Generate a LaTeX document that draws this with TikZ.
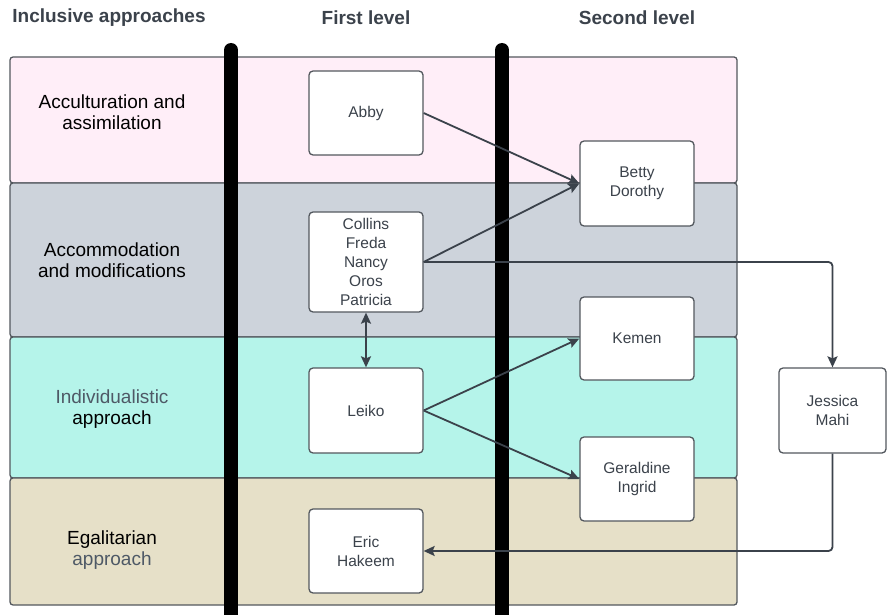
\documentclass[tikz,border=0pt]{standalone}
\usepackage{fontspec}
\setmainfont{Liberation Sans}
\usetikzlibrary{arrows.meta}
\definecolor{inkgray}{HTML}{3B424B}
\definecolor{edgegray}{HTML}{53585E}
\definecolor{softgray}{HTML}{4E5966}
\definecolor{lanepink}{HTML}{FFEEF8}
\definecolor{lanegray}{HTML}{CDD3DB}
\definecolor{lanemint}{HTML}{B5F4EA}
\definecolor{lanesand}{HTML}{E6E0C8}
\tikzset{
  lane/.style={draw=edgegray, line width=1.3pt, rounded corners=3pt},
  heading/.style={font=\fontsize{19}{22}\selectfont\bfseries, text=inkgray, inner sep=0pt},
  lanelabel/.style={font=\fontsize{19}{21.5}\selectfont, align=center, text=black, inner sep=0pt},
  person/.style={draw=edgegray, fill=white, line width=1.3pt, rounded corners=4pt,
    minimum width=114pt, align=center, text=inkgray, inner sep=0pt,
    font=\fontsize{15.5}{19}\selectfont},
  divider/.style={line width=14pt, line cap=round, black},
  link/.style={draw=inkgray, line width=1.8pt, rounded corners=4pt,
    -{Stealth[length=11pt, width=10pt, inset=2pt]}},
}
\begin{document}
\begin{tikzpicture}[x=1pt, y=-1pt]
  \useasboundingbox (0,0) rectangle (887,615);

  % swimlanes
  \draw[lane, fill=lanepink] (10,57) rectangle (737,183);
  \draw[lane, fill=lanegray] (10,183) rectangle (737,337);
  \draw[lane, fill=lanemint] (10,337) rectangle (737,478);
  \draw[lane, fill=lanesand] (10,478) rectangle (737,605);

  % column dividers
  \draw[divider] (231,50) -- (231,640);
  \draw[divider] (502,50) -- (502,640);

  % column headings
  \node[heading] (hA) at (109,18) {Inclusive approaches};
  \node[heading] (hB) at (366,18) {First level};
  \node[heading] (hC) at (637,18) {Second level};

  % lane labels
  \node[lanelabel] (lA) at (112,112) {Acculturation and\\assimilation};
  \node[lanelabel] (lB) at (112,260) {Accommodation\\and modifications};
  \node[lanelabel] (lC) at (112,409) {\textcolor{softgray}{Individualistic}\\approach};
  \node[lanelabel] (lD) at (112,550) {Egalitarian\\\textcolor{softgray}{approach}};

  % people
  \node[person, minimum height=84pt] (abby) at (366,113) {Abby};
  \node[person, minimum height=100pt] (collins) at (366,262) {Collins\\Freda\\Nancy\\Oros\\Patricia};
  \node[person, minimum height=85pt] (leiko) at (366,410.5) {Leiko};
  \node[person, minimum height=84pt] (eric) at (366,551) {Eric\\Hakeem};
  \node[person, minimum height=85pt] (betty) at (637,183.5) {Betty\\Dorothy};
  \node[person, minimum height=83pt] (kemen) at (637,338.5) {Kemen};
  \node[person, minimum height=84pt] (geraldine) at (637,479) {Geraldine\\Ingrid};
  \node[person, minimum height=85pt, minimum width=107pt] (jessica) at (832.5,410.5) {Jessica\\Mahi};

  % connectors
  \draw[link] (abby.east) -- (betty.west);
  \draw[link] (collins.east) -- (betty.west);
  \draw[link] (collins.east) -| (jessica.north);
  \draw[link, {Stealth[length=11pt, width=10pt, inset=2pt]}-{Stealth[length=11pt, width=10pt, inset=2pt]}] (collins.south) -- (leiko.north);
  \draw[link] (leiko.east) -- (kemen.west);
  \draw[link] (leiko.east) -- (geraldine.west);
  \draw[link] (jessica.south) |- (eric.east);
\end{tikzpicture}
\end{document}
